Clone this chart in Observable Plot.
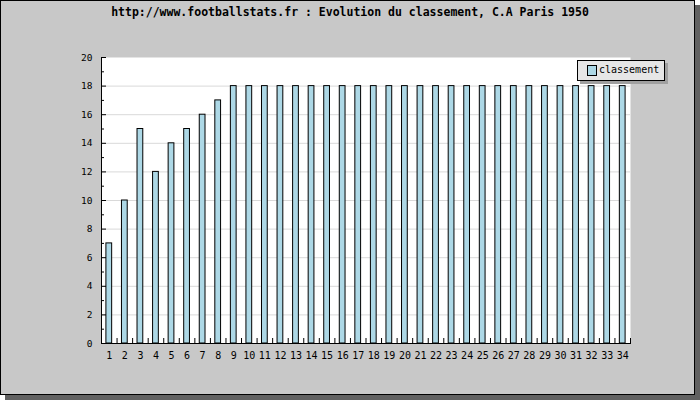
<!DOCTYPE html>
<html><head><meta charset="utf-8">
<script src="https://cdn.jsdelivr.net/npm/d3@7"></script>
<script src="https://cdn.jsdelivr.net/npm/@observablehq/plot@0.6"></script>
<style>
body{margin:0;background:#fff;}
#wrap{position:relative;width:700px;height:400px;overflow:hidden;}
#bg{position:absolute;left:0;top:0;width:693px;height:393px;border:1px solid #000;background:#c8c8c8;box-shadow:5px 5px 0 #606060;}
#title{position:absolute;left:0;top:5px;width:700px;text-align:center;font:bold 11.5px "DejaVu Sans Mono",monospace;line-height:14px;color:#000;}
#chart{position:absolute;left:0;top:0;}
#legend{position:absolute;left:577px;top:60px;width:86px;height:19px;border:1px solid #000;background:#e6e6e6;box-shadow:3px 3px 0 #a0a0a0;font:10px "DejaVu Sans Mono",monospace;color:#000;}
#legend .sw{position:absolute;left:9px;top:4px;width:8px;height:9px;border:1px solid #000;background:#add8e6;}
#legend .lb{position:absolute;left:21px;top:3px;line-height:12px;}
</style></head>
<body>
<div id="wrap">
  <div id="bg"></div>
  <div id="chart"></div>
  <div id="title"></div>
  <div id="legend"><div class="sw"></div><div class="lb"></div></div>
</div>
<script>
const titleText = "http://www.footballstats.fr : Evolution du classement, C.A Paris 1950";
const seriesName = "classement";
const rounds = [1,2,3,4,5,6,7,8,9,10,11,12,13,14,15,16,17,18,19,20,21,22,23,24,25,26,27,28,29,30,31,32,33,34];
const values = [7,10,15,12,14,15,16,17,18,18,18,18,18,18,18,18,18,18,18,18,18,18,18,18,18,18,18,18,18,18,18,18,18,18];
const yTicks = [0,2,4,6,8,10,12,14,16,18,20];
const yMinor = [1,3,5,7,9,11,13,15,17,19];
const gridVals = [2,4,6,8,10,12,14,16,18];

document.getElementById("title").textContent = titleText;
document.querySelector("#legend .lb").textContent = seriesName;

const data = rounds.map((r, i) => ({round: r, value: values[i]}));
const W = 700, H = 400, ML = 101, MR = 70, MT = 57, MB = 57;
const step = (W - ML - MR) / rounds.length;

const chart = Plot.plot({
  width: W, height: H,
  marginLeft: ML, marginRight: MR, marginTop: MT, marginBottom: MB,
  x: {type: "band", domain: rounds, paddingInner: 0.63, paddingOuter: 0.315, round: false, axis: null},
  y: {domain: [0, 20], axis: null},
  style: {background: "transparent", fontFamily: "'DejaVu Sans Mono', monospace", fontSize: "9.5px", color: "#000"},
  marks: [
    Plot.frame({fill: "#fff", stroke: null}),
    Plot.gridY(gridVals, {stroke: "#d9d9d9", strokeOpacity: 1}),
    Plot.barY(data, {x: "round", y: "value", fill: "#add8e6", stroke: "#000", strokeWidth: 1}),
    Plot.axisY(yTicks, {tickSize: 0, tickPadding: 9, label: null}),
    Plot.axisY(yTicks, {tickSize: -5, tickFormat: () => "", label: null}),
    Plot.axisY(yMinor, {tickSize: -3, tickFormat: () => "", label: null}),
    Plot.axisX(rounds, {tickSize: 0, tickPadding: 8, fontSize: 10, label: null}),
    Plot.axisX(rounds, {tickSize: -5, dx: step / 2, tickFormat: () => "", label: null}),
    Plot.frame({anchor: "left", stroke: "#000"}),
    Plot.frame({anchor: "bottom", stroke: "#000"})
  ]
});
document.getElementById("chart").appendChild(chart);
</script>
</body></html>
